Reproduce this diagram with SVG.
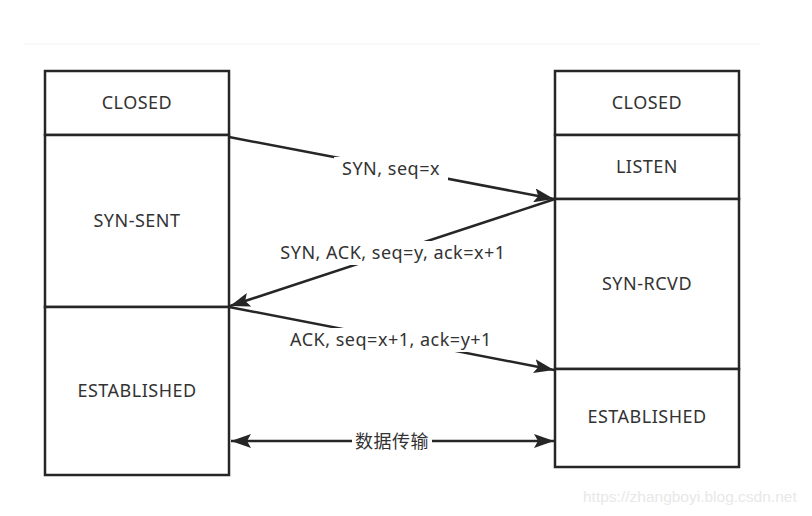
<svg xmlns="http://www.w3.org/2000/svg" width="812" height="516" viewBox="0 0 812 516">
<style>
.box{fill:#fff;stroke:#262626;stroke-width:2.5}
.t{font-family:"Noto Sans","Open Sans","Noto Sans CJK SC",sans-serif;font-size:18px;letter-spacing:0.5px;fill:#333;text-anchor:middle;dominant-baseline:central}
.ln{stroke:#262626;stroke-width:2.5;fill:none}
.bg{fill:#fff}
</style>
<defs>
<marker id="ahb" viewBox="0 0 20 14" refX="20" refY="7" markerWidth="20" markerHeight="14" markerUnits="userSpaceOnUse" orient="auto-start-reverse">
<path d="M0,0 L20,7 L0,14 L4,7 z" fill="#262626"/>
</marker>
</defs>
<rect width="812" height="516" fill="#fff"/>
<line x1="24" y1="44" x2="760" y2="44" stroke="#f3f3f3" stroke-width="1"/>
<g id="left-closed"><rect class="box" x="45" y="71" width="184" height="64"/><text class="t" x="137" y="102">CLOSED</text></g>
<g id="left-synsent"><rect class="box" x="45" y="135" width="184" height="172"/><text class="t" x="137" y="220">SYN-SENT</text></g>
<g id="left-established"><rect class="box" x="45" y="307" width="184" height="168"/><text class="t" x="137" y="390">ESTABLISHED</text></g>
<g id="right-closed"><rect class="box" x="555" y="71" width="184" height="64"/><text class="t" x="647" y="102">CLOSED</text></g>
<g id="right-listen"><rect class="box" x="555" y="135" width="184" height="64"/><text class="t" x="647" y="166">LISTEN</text></g>
<g id="right-synrcvd"><rect class="box" x="555" y="199" width="184" height="170"/><text class="t" x="647" y="283">SYN-RCVD</text></g>
<g id="right-established"><rect class="box" x="555" y="369" width="184" height="98"/><text class="t" x="647" y="416">ESTABLISHED</text></g>
<g id="connectors">
<line class="ln" x1="229" y1="137" x2="554" y2="199" marker-end="url(#ahb)"/>
<line class="ln" x1="555" y1="199" x2="230" y2="306" marker-end="url(#ahb)"/>
<line class="ln" x1="229" y1="307" x2="554" y2="370" marker-end="url(#ahb)"/>
<line class="ln" x1="231" y1="441" x2="554" y2="441" marker-start="url(#ahb)" marker-end="url(#ahb)"/>
<rect class="bg" x="334" y="157" width="114" height="24"/>
<text class="t" x="391" y="168">SYN, seq=x</text>
<rect class="bg" x="272" y="241" width="242" height="24"/>
<text class="t" x="393" y="252">SYN, ACK, seq=y, ack=x+1</text>
<rect class="bg" x="280" y="328" width="224" height="24"/>
<text class="t" x="391" y="339">ACK, seq=x+1, ack=y+1</text>
<rect class="bg" x="352" y="430" width="80" height="24"/>
<text class="t" x="392" y="441">数据传输</text>
</g>
<text x="583" y="502" font-family="Liberation Sans,Arial,sans-serif" font-size="15.5" fill="#e8e8e8">https://zhangboyi.blog.csdn.net</text>
</svg>
